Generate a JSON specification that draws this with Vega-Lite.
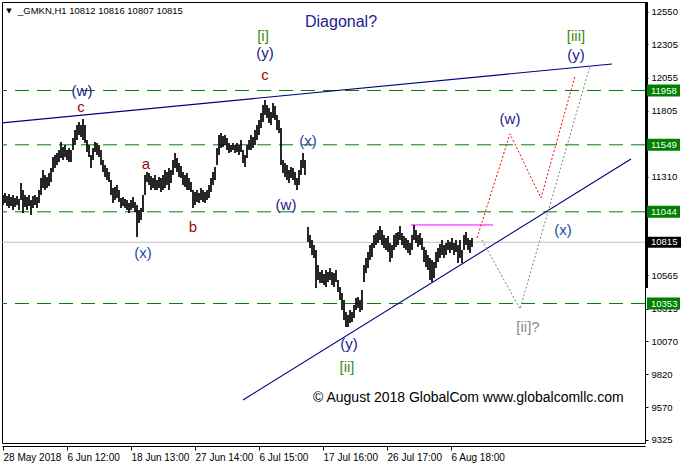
{
  "$schema": "https://vega.github.io/schema/vega-lite/v6.json",
  "width": 643,
  "height": 441,
  "autosize": "none",
  "padding": {"left": 2, "top": 2, "right": 40, "bottom": 27},
  "background": "white",
  "config": {"view": {"stroke": "#000000", "strokeWidth": 1}, "font": "Liberation Sans", "axis": {"grid": false}},
  "datasets": {
    "bars": [
      {"t":1,"h":11171,"l":11095},{"t":3,"h":11186,"l":11110},{"t":5,"h":11163,"l":11088},{"t":7,"h":11178,"l":11073},
      {"t":9,"h":11156,"l":11088},{"t":11,"h":11171,"l":11058},{"t":13,"h":11148,"l":11080},{"t":15,"h":11163,"l":11095},
      {"t":17,"h":11141,"l":11058},{"t":19,"h":11261,"l":11133},{"t":21,"h":11208,"l":11035},{"t":23,"h":11171,"l":11080},
      {"t":25,"h":11156,"l":11058},{"t":27,"h":11171,"l":11088},{"t":29,"h":11133,"l":11020},{"t":31,"h":11163,"l":11073},
      {"t":33,"h":11171,"l":11095},{"t":35,"h":11156,"l":11073},{"t":37,"h":11208,"l":11110},{"t":39,"h":11299,"l":11171},
      {"t":41,"h":11359,"l":11223},{"t":43,"h":11321,"l":11208},{"t":45,"h":11306,"l":11223},{"t":47,"h":11336,"l":11239},
      {"t":49,"h":11374,"l":11269},{"t":51,"h":11457,"l":11344},{"t":53,"h":11472,"l":11374},{"t":55,"h":11487,"l":11397},
      {"t":57,"h":11510,"l":11419},{"t":59,"h":11570,"l":11449},{"t":61,"h":11532,"l":11434},{"t":63,"h":11548,"l":11457},
      {"t":65,"h":11510,"l":11434},{"t":67,"h":11525,"l":11419},{"t":69,"h":11510,"l":11419},{"t":71,"h":11600,"l":11510},
      {"t":73,"h":11660,"l":11548},{"t":75,"h":11698,"l":11585},{"t":77,"h":11721,"l":11623},{"t":79,"h":11698,"l":11608},
      {"t":81,"h":11743,"l":11585},{"t":83,"h":11698,"l":11563},{"t":85,"h":11585,"l":11495},{"t":87,"h":11548,"l":11457},
      {"t":89,"h":11472,"l":11374},{"t":91,"h":11525,"l":11434},{"t":93,"h":11570,"l":11495},{"t":95,"h":11563,"l":11472},
      {"t":97,"h":11548,"l":11457},{"t":99,"h":11510,"l":11397},{"t":101,"h":11434,"l":11344},{"t":103,"h":11397,"l":11306},
      {"t":105,"h":11374,"l":11284},{"t":107,"h":11344,"l":11269},{"t":109,"h":11284,"l":11171},{"t":111,"h":11223,"l":11110},
      {"t":113,"h":11231,"l":11133},{"t":115,"h":11246,"l":11148},{"t":117,"h":11208,"l":11118},{"t":119,"h":11148,"l":11073},
      {"t":121,"h":11156,"l":11088},{"t":123,"h":11141,"l":11073},{"t":125,"h":11133,"l":11058},{"t":127,"h":11110,"l":11035},
      {"t":129,"h":11133,"l":11058},{"t":131,"h":11156,"l":11073},{"t":133,"h":11118,"l":11043},{"t":135,"h":11095,"l":10854},
      {"t":137,"h":11058,"l":10960},{"t":139,"h":11073,"l":10982},{"t":141,"h":11171,"l":11043},{"t":143,"h":11321,"l":11171},
      {"t":145,"h":11344,"l":11269},{"t":147,"h":11336,"l":11246},{"t":149,"h":11314,"l":11208},{"t":151,"h":11299,"l":11223},
      {"t":153,"h":11321,"l":11208},{"t":155,"h":11284,"l":11208},{"t":157,"h":11306,"l":11223},{"t":159,"h":11299,"l":11193},
      {"t":161,"h":11321,"l":11208},{"t":163,"h":11359,"l":11223},{"t":165,"h":11344,"l":11246},{"t":167,"h":11374,"l":11208},
      {"t":169,"h":11359,"l":11261},{"t":171,"h":11434,"l":11321},{"t":173,"h":11487,"l":11374},{"t":175,"h":11449,"l":11344},
      {"t":177,"h":11412,"l":11306},{"t":179,"h":11389,"l":11299},{"t":181,"h":11344,"l":11246},{"t":183,"h":11321,"l":11231},
      {"t":185,"h":11336,"l":11208},{"t":187,"h":11299,"l":11208},{"t":189,"h":11269,"l":11193},{"t":191,"h":11208,"l":11073},
      {"t":193,"h":11193,"l":11095},{"t":195,"h":11208,"l":11118},{"t":197,"h":11186,"l":11110},{"t":199,"h":11223,"l":11133},
      {"t":201,"h":11208,"l":11118},{"t":203,"h":11193,"l":11110},{"t":205,"h":11208,"l":11133},{"t":207,"h":11246,"l":11148},
      {"t":209,"h":11299,"l":11193},{"t":211,"h":11344,"l":11246},{"t":213,"h":11382,"l":11284},{"t":215,"h":11525,"l":11397},
      {"t":217,"h":11623,"l":11472},{"t":219,"h":11638,"l":11525},{"t":221,"h":11615,"l":11532},{"t":223,"h":11623,"l":11548},
      {"t":225,"h":11600,"l":11510},{"t":227,"h":11563,"l":11487},{"t":229,"h":11548,"l":11495},{"t":231,"h":11563,"l":11510},
      {"t":233,"h":11548,"l":11487},{"t":235,"h":11563,"l":11495},{"t":237,"h":11548,"l":11472},{"t":239,"h":11585,"l":11495},
      {"t":241,"h":11510,"l":11412},{"t":243,"h":11472,"l":11382},{"t":245,"h":11548,"l":11449},{"t":247,"h":11585,"l":11510},
      {"t":249,"h":11623,"l":11510},{"t":251,"h":11608,"l":11525},{"t":253,"h":11660,"l":11548},{"t":255,"h":11698,"l":11585},
      {"t":257,"h":11736,"l":11623},{"t":259,"h":11789,"l":11675},{"t":261,"h":11849,"l":11721},{"t":263,"h":11887,"l":11774},
      {"t":265,"h":11849,"l":11751},{"t":267,"h":11826,"l":11713},{"t":269,"h":11796,"l":11698},{"t":271,"h":11864,"l":11751},
      {"t":273,"h":11841,"l":11736},{"t":275,"h":11774,"l":11660},{"t":277,"h":11736,"l":11638},{"t":279,"h":11675,"l":11397},
      {"t":281,"h":11434,"l":11336},{"t":283,"h":11412,"l":11306},{"t":285,"h":11397,"l":11284},{"t":287,"h":11359,"l":11261},
      {"t":289,"h":11382,"l":11299},{"t":291,"h":11374,"l":11284},{"t":293,"h":11344,"l":11246},{"t":295,"h":11299,"l":11208},
      {"t":297,"h":11359,"l":11246},{"t":299,"h":11434,"l":11321},{"t":301,"h":11487,"l":11374},{"t":303,"h":11434,"l":11321},
      {"t":306,"h":10929,"l":10816},{"t":308,"h":10869,"l":10771},{"t":310,"h":10832,"l":10719},{"t":312,"h":10794,"l":10696},
      {"t":314,"h":10756,"l":10470},{"t":316,"h":10643,"l":10530},{"t":318,"h":10590,"l":10508},{"t":320,"h":10606,"l":10508},
      {"t":322,"h":10575,"l":10492},{"t":324,"h":10606,"l":10477},{"t":326,"h":10590,"l":10515},{"t":328,"h":10621,"l":10530},
      {"t":330,"h":10590,"l":10492},{"t":332,"h":10583,"l":10477},{"t":334,"h":10606,"l":10515},{"t":336,"h":10530,"l":10440},
      {"t":338,"h":10477,"l":10380},{"t":340,"h":10432,"l":10304},{"t":342,"h":10380,"l":10229},{"t":344,"h":10289,"l":10176},
      {"t":346,"h":10266,"l":10176},{"t":348,"h":10304,"l":10206},{"t":350,"h":10289,"l":10214},{"t":352,"h":10342,"l":10244},
      {"t":354,"h":10394,"l":10304},{"t":356,"h":10402,"l":10319},{"t":358,"h":10380,"l":10289},{"t":360,"h":10455,"l":10304},
      {"t":362,"h":10643,"l":10515},{"t":364,"h":10696,"l":10583},{"t":366,"h":10741,"l":10621},{"t":368,"h":10794,"l":10681},
      {"t":370,"h":10809,"l":10704},{"t":372,"h":10869,"l":10771},{"t":374,"h":10884,"l":10794},{"t":376,"h":10907,"l":10809},
      {"t":378,"h":10937,"l":10832},{"t":380,"h":10907,"l":10794},{"t":382,"h":10869,"l":10771},{"t":384,"h":10847,"l":10756},
      {"t":386,"h":10862,"l":10741},{"t":388,"h":10809,"l":10666},{"t":390,"h":10794,"l":10696},{"t":392,"h":10869,"l":10756},
      {"t":394,"h":10884,"l":10779},{"t":396,"h":10892,"l":10794},{"t":398,"h":10937,"l":10832},{"t":400,"h":10884,"l":10794},
      {"t":402,"h":10862,"l":10771},{"t":404,"h":10847,"l":10756},{"t":406,"h":10832,"l":10734},{"t":408,"h":10809,"l":10719},
      {"t":410,"h":10869,"l":10756},{"t":412,"h":10945,"l":10832},{"t":414,"h":10907,"l":10809},{"t":416,"h":10869,"l":10779},
      {"t":418,"h":10884,"l":10794},{"t":420,"h":10847,"l":10756},{"t":422,"h":10779,"l":10666},{"t":424,"h":10756,"l":10628},
      {"t":426,"h":10719,"l":10606},{"t":428,"h":10696,"l":10530},{"t":430,"h":10681,"l":10515},{"t":432,"h":10666,"l":10545},
      {"t":434,"h":10741,"l":10621},{"t":436,"h":10771,"l":10666},{"t":438,"h":10801,"l":10696},{"t":440,"h":10832,"l":10719},
      {"t":442,"h":10794,"l":10696},{"t":444,"h":10809,"l":10719},{"t":446,"h":10832,"l":10756},{"t":448,"h":10816,"l":10734},
      {"t":450,"h":10847,"l":10756},{"t":452,"h":10809,"l":10719},{"t":454,"h":10832,"l":10741},{"t":456,"h":10794,"l":10658},
      {"t":458,"h":10832,"l":10696},{"t":460,"h":10756,"l":10658},{"t":462,"h":10869,"l":10756},{"t":464,"h":10892,"l":10794},
      {"t":466,"h":10847,"l":10756},{"t":468,"h":10832,"l":10734},{"t":470,"h":10847,"l":10779}
    ],
    "levels": [{"p":11958},{"p":11549},{"p":11044},{"p":10353}],
    "trend": [
      {"g":"upper","t":0,"p":11714},{"g":"upper","t":610,"p":12158},
      {"g":"lower","t":241,"p":9626},{"g":"lower","t":629,"p":11442}
    ],
    "main": [{"t":475,"p":10847},{"t":508,"p":11631},{"t":539,"p":11148},{"t":573,"p":12068}],
    "alt": [{"t":480,"p":10832},{"t":518,"p":10312},{"t":588,"p":12143}],
    "waves": [
      {"s":"[i]","t":261,"p":12369,"k":"deg"},
      {"s":"(y)","t":263,"p":12241,"k":"wy"},
      {"s":"c","t":263,"p":12075,"k":"abc"},
      {"s":"(w)","t":80,"p":11954,"k":"wy"},
      {"s":"c","t":79,"p":11834,"k":"abc"},
      {"s":"a","t":144,"p":11405,"k":"abc"},
      {"s":"b","t":191,"p":10930,"k":"abc"},
      {"s":"(x)","t":141,"p":10734,"k":"x"},
      {"s":"(x)","t":306,"p":11578,"k":"x"},
      {"s":"(w)","t":284,"p":11096,"k":"wy"},
      {"s":"(w)","t":508,"p":11744,"k":"wy"},
      {"s":"[iii]","t":574,"p":12369,"k":"deg"},
      {"s":"(y)","t":574,"p":12226,"k":"wy"},
      {"s":"(x)","t":561,"p":10907,"k":"x"},
      {"s":"(y)","t":347,"p":10048,"k":"wy"},
      {"s":"[ii]","t":345,"p":9875,"k":"deg"},
      {"s":"[ii]?","t":526,"p":10176,"k":"alt"}
    ]
  },
  "layer": [
    {
      "data": {"name": "levels"},
      "mark": {"type": "rule", "color": "#008000", "strokeWidth": 1, "strokeDash": [14, 8]},
      "encoding": {
        "y": {"field": "p", "type": "quantitative", "scale": {"domain": [9302, 12625], "nice": false, "zero": false},
          "axis": {"orient": "right", "values": [12550, 12305, 12055, 11805, 11310, 10565, 10315, 10070, 9820, 9570, 9325],
            "format": "d", "title": null, "grid": false, "domain": false, "ticks": true, "tickSize": 3, "tickColor": "#000000",
            "labelColor": "#000000", "labelFont": "Liberation Sans", "labelFontSize": 9.5, "labelPadding": 3,
            "labelFlush": false, "labelOverlap": false, "labelBaseline": "middle", "zindex": 0}}
      }
    },
    {
      "data": {"values": [{"p": 10815}]},
      "mark": {"type": "rule", "color": "#c0c0c0", "strokeWidth": 1},
      "encoding": {
        "y": {"field": "p", "type": "quantitative", "scale": {"domain": [9302, 12625], "nice": false, "zero": false}}
      }
    },
    {
      "data": {"values": [{"t": 409, "t1": 491, "p": 10945}]},
      "mark": {"type": "rule", "color": "#ff00ff", "strokeWidth": 1},
      "encoding": {
        "x": {"field": "t", "type": "quantitative", "scale": {"domain": [0, 643], "nice": false, "zero": false},
          "axis": {"orient": "bottom", "values": [1, 65, 129, 193, 257, 321, 385, 449], "title": null, "grid": false,
            "offset": 3, "domain": true, "domainColor": "#000000", "domainWidth": 1, "ticks": true, "tickSize": 4,
            "tickColor": "#000000", "labelAlign": "left", "labelPadding": 2, "labelColor": "#000000",
            "labelFont": "Liberation Sans", "labelFontSize": 10, "labelFlush": false, "labelOverlap": false,
            "labelExpr": "['28 May 2018','6 Jun 12:00','18 Jun 13:00','27 Jun 14:00','6 Jul 15:00','17 Jul 16:00','26 Jul 17:00','6 Aug 18:00'][indexof([1,65,129,193,257,321,385,449], datum.value)]"}},
        "x2": {"field": "t1"},
        "y": {"field": "p", "type": "quantitative", "scale": {"domain": [9302, 12625], "nice": false, "zero": false}}
      }
    },
    {
      "data": {"name": "bars"},
      "mark": {"type": "rule", "color": "#000000", "strokeWidth": 1.7},
      "encoding": {
        "x": {"field": "t", "type": "quantitative", "scale": {"domain": [0, 643], "nice": false, "zero": false}},
        "y": {"field": "h", "type": "quantitative", "scale": {"domain": [9302, 12625], "nice": false, "zero": false}},
        "y2": {"field": "l"}
      }
    },
    {
      "data": {"name": "trend"},
      "mark": {"type": "line", "color": "#000080", "strokeWidth": 1.1},
      "encoding": {
        "x": {"field": "t", "type": "quantitative", "scale": {"domain": [0, 643], "nice": false, "zero": false}},
        "y": {"field": "p", "type": "quantitative", "scale": {"domain": [9302, 12625], "nice": false, "zero": false}},
        "detail": {"field": "g"}
      }
    },
    {
      "data": {"name": "main"},
      "mark": {"type": "line", "color": "#ff0000", "strokeWidth": 1, "strokeDash": [2, 2]},
      "encoding": {
        "x": {"field": "t", "type": "quantitative", "scale": {"domain": [0, 643], "nice": false, "zero": false}},
        "y": {"field": "p", "type": "quantitative", "scale": {"domain": [9302, 12625], "nice": false, "zero": false}}
      }
    },
    {
      "data": {"name": "alt"},
      "mark": {"type": "line", "color": "#808080", "strokeWidth": 1, "strokeDash": [2, 2]},
      "encoding": {
        "x": {"field": "t", "type": "quantitative", "scale": {"domain": [0, 643], "nice": false, "zero": false}},
        "y": {"field": "p", "type": "quantitative", "scale": {"domain": [9302, 12625], "nice": false, "zero": false}}
      }
    },
    {
      "data": {"values": [{"p": 12625, "p1": 10470}]},
      "mark": {"type": "rule", "color": "#000000", "strokeWidth": 3},
      "encoding": {
        "x": {"datum": 644.5, "type": "quantitative", "scale": {"domain": [0, 643], "nice": false, "zero": false}},
        "y": {"field": "p", "type": "quantitative", "scale": {"domain": [9302, 12625], "nice": false, "zero": false}},
        "y2": {"field": "p1"}
      }
    },
    {
      "data": {"name": "levels"},
      "mark": {"type": "rule", "color": "#008000", "strokeWidth": 12},
      "encoding": {
        "x": {"datum": 645, "type": "quantitative", "scale": {"domain": [0, 643], "nice": false, "zero": false}},
        "x2": {"datum": 678},
        "y": {"field": "p", "type": "quantitative", "scale": {"domain": [9302, 12625], "nice": false, "zero": false}}
      }
    },
    {
      "data": {"values": [{"p": 10815}]},
      "mark": {"type": "rule", "color": "#000000", "strokeWidth": 11},
      "encoding": {
        "x": {"datum": 645, "type": "quantitative", "scale": {"domain": [0, 643], "nice": false, "zero": false}},
        "x2": {"datum": 679},
        "y": {"field": "p", "type": "quantitative", "scale": {"domain": [9302, 12625], "nice": false, "zero": false}}
      }
    },
    {
      "data": {"values": [{"p": 11958}, {"p": 11549}, {"p": 11044}, {"p": 10353}, {"p": 10815}]},
      "mark": {"type": "text", "color": "#ffffff", "align": "left", "baseline": "middle", "font": "Liberation Sans", "fontSize": 9.5},
      "encoding": {
        "x": {"datum": 649, "type": "quantitative", "scale": {"domain": [0, 643], "nice": false, "zero": false}},
        "y": {"field": "p", "type": "quantitative", "scale": {"domain": [9302, 12625], "nice": false, "zero": false}},
        "text": {"field": "p", "type": "quantitative", "format": "d"}
      }
    },
    {
      "data": {"name": "waves"},
      "mark": {"type": "text", "align": "center", "baseline": "middle", "font": "Liberation Sans", "fontSize": 15},
      "encoding": {
        "x": {"field": "t", "type": "quantitative", "scale": {"domain": [0, 643], "nice": false, "zero": false}},
        "y": {"field": "p", "type": "quantitative", "scale": {"domain": [9302, 12625], "nice": false, "zero": false}},
        "text": {"field": "s"},
        "color": {"field": "k", "type": "nominal", "legend": null,
          "scale": {"domain": ["wy", "x", "abc", "deg", "alt"], "range": ["#23208f", "#2448a8", "#9a0a0a", "#3f8a1c", "#8c8c8c"]}}
      }
    },
    {
      "data": {"values": [{"s": "Diagonal?", "t": 303, "p": 12474}]},
      "mark": {"type": "text", "align": "left", "baseline": "middle", "font": "Liberation Sans", "fontSize": 16, "color": "#23208f"},
      "encoding": {
        "x": {"field": "t", "type": "quantitative", "scale": {"domain": [0, 643], "nice": false, "zero": false}},
        "y": {"field": "p", "type": "quantitative", "scale": {"domain": [9302, 12625], "nice": false, "zero": false}},
        "text": {"field": "s"}
      }
    },
    {
      "data": {"values": [{"s": "© August 2018 GlobalCom www.globalcomllc.com", "t": 311, "p": 9641}]},
      "mark": {"type": "text", "align": "left", "baseline": "middle", "font": "Liberation Sans", "fontSize": 14, "color": "#000000"},
      "encoding": {
        "x": {"field": "t", "type": "quantitative", "scale": {"domain": [0, 643], "nice": false, "zero": false}},
        "y": {"field": "p", "type": "quantitative", "scale": {"domain": [9302, 12625], "nice": false, "zero": false}},
        "text": {"field": "s"}
      }
    },
    {
      "data": {"values": [{"s": "_GMKN,H1  10812 10816 10807 10815", "t": 16, "p": 12557}]},
      "mark": {"type": "text", "align": "left", "baseline": "middle", "font": "Liberation Sans", "fontSize": 9.5, "color": "#000000"},
      "encoding": {
        "x": {"field": "t", "type": "quantitative", "scale": {"domain": [0, 643], "nice": false, "zero": false}},
        "y": {"field": "p", "type": "quantitative", "scale": {"domain": [9302, 12625], "nice": false, "zero": false}},
        "text": {"field": "s"}
      }
    },
    {
      "data": {"values": [{"s": "▼", "t": 7, "p": 12560}]},
      "mark": {"type": "text", "align": "center", "baseline": "middle", "font": "DejaVu Sans", "fontSize": 7, "color": "#000000"},
      "encoding": {
        "x": {"field": "t", "type": "quantitative", "scale": {"domain": [0, 643], "nice": false, "zero": false}},
        "y": {"field": "p", "type": "quantitative", "scale": {"domain": [9302, 12625], "nice": false, "zero": false}},
        "text": {"field": "s"}
      }
    }
  ]
}
